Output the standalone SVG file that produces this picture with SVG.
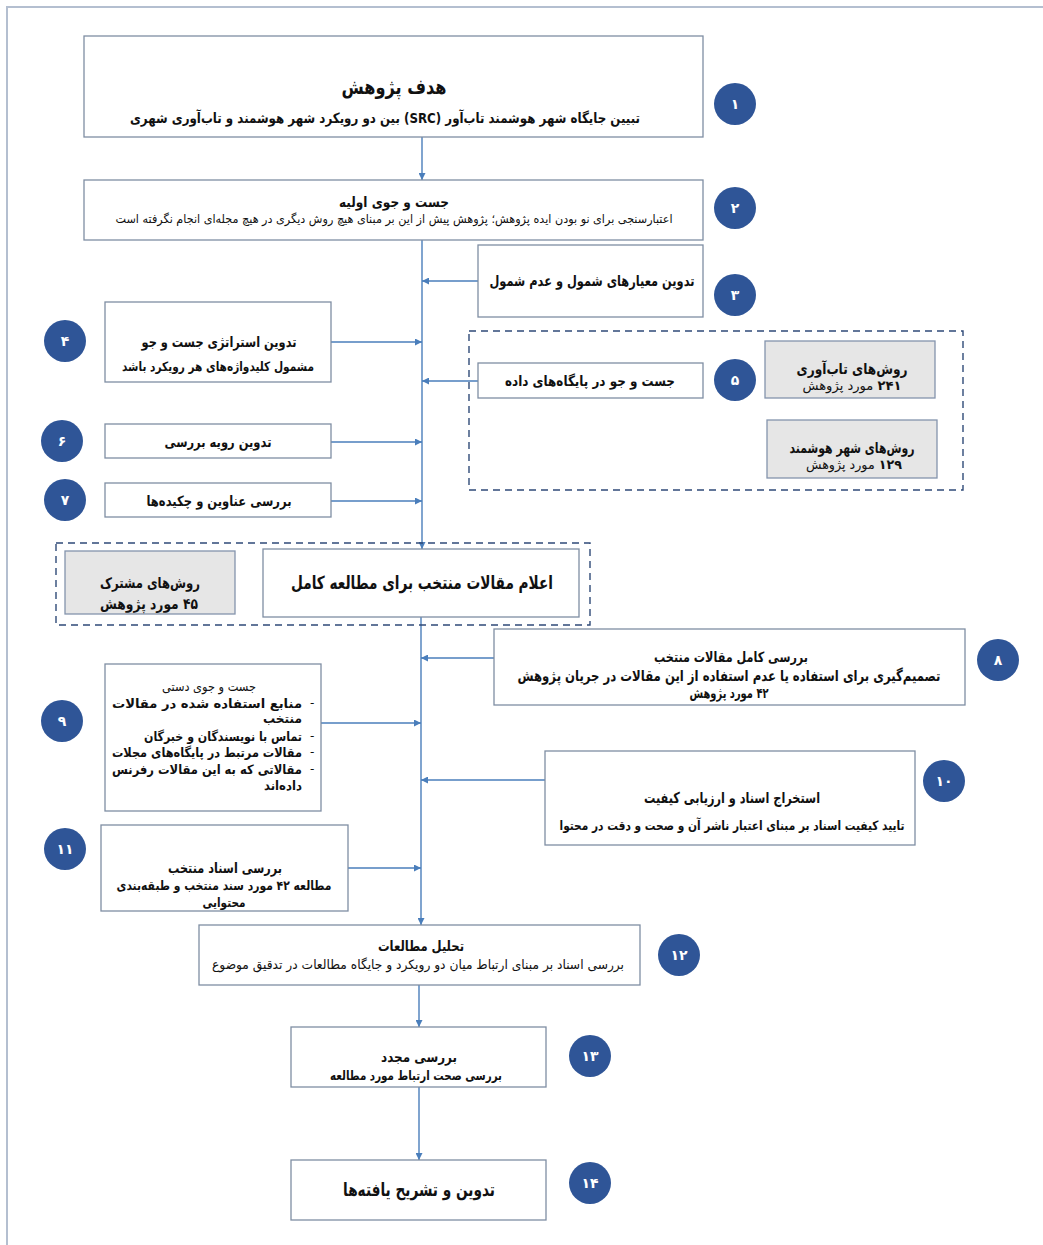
<svg xmlns="http://www.w3.org/2000/svg" width="1043" height="1245" viewBox="0 0 1043 1245">
<style>
text{font-family:"DejaVu Sans",sans-serif;fill:#111;direction:rtl}
.t{font-weight:bold;text-anchor:middle}
.s{text-anchor:middle}
.r{text-anchor:start;font-weight:600}
.box{fill:#fff;stroke:#7f8ea3;stroke-width:1.3}
.grey{fill:#e6e6e6;stroke:#8494ad;stroke-width:1.3}
.dash{fill:none;stroke:#2f4a78;stroke-width:1.4;stroke-dasharray:7 5}
.c{fill:#2f5597}
.n{fill:#fff;font-weight:bold;text-anchor:middle;font-size:14px}
.ln{stroke:#4a7ebb;stroke-width:1.4;fill:none}
.frame{fill:none;stroke:#b4bfd0;stroke-width:2}
</style>
<defs>
<marker id="ah" viewBox="0 0 10 10" refX="10" refY="5" markerWidth="5" markerHeight="5" orient="auto">
<path d="M0,0 L10,5 L0,10 z" fill="#4a7ebb"/>
</marker>
</defs>
<rect class="frame" x="7" y="7" width="1045" height="1250"/>

<g id="connectors">
<line class="ln" x1="422" y1="137" x2="422" y2="180" marker-end="url(#ah)"/>
<line class="ln" x1="422" y1="240" x2="422" y2="549" marker-end="url(#ah)"/>
<line class="ln" x1="478" y1="281" x2="422" y2="281" marker-end="url(#ah)"/>
<line class="ln" x1="331" y1="342" x2="422" y2="342" marker-end="url(#ah)"/>
<line class="ln" x1="478" y1="381" x2="422" y2="381" marker-end="url(#ah)"/>
<line class="ln" x1="331" y1="442" x2="422" y2="442" marker-end="url(#ah)"/>
<line class="ln" x1="331" y1="501" x2="422" y2="501" marker-end="url(#ah)"/>
<line class="ln" x1="421" y1="617" x2="421" y2="925" marker-end="url(#ah)"/>
<line class="ln" x1="494" y1="658" x2="421" y2="658" marker-end="url(#ah)"/>
<line class="ln" x1="321" y1="723" x2="421" y2="723" marker-end="url(#ah)"/>
<line class="ln" x1="545" y1="780" x2="421" y2="780" marker-end="url(#ah)"/>
<line class="ln" x1="348" y1="868" x2="421" y2="868" marker-end="url(#ah)"/>
<line class="ln" x1="419" y1="985" x2="419" y2="1027" marker-end="url(#ah)"/>
<line class="ln" x1="419" y1="1087" x2="419" y2="1160" marker-end="url(#ah)"/>
</g>

<g id="node1">
<rect class="box" x="84" y="36" width="619" height="101"/>
<text class="t" x="394" y="94" font-size="20" textLength="105" lengthAdjust="spacingAndGlyphs">هدف پژوهش</text>
<text class="t" x="385" y="123" font-size="14" textLength="510" lengthAdjust="spacingAndGlyphs">تبیین جایگاه شهر هوشمند تاب‌آور (SRC) بین دو رویکرد شهر هوشمند و تاب‌آوری شهری</text>
<circle class="c" cx="735" cy="104" r="21"/><text class="n" x="735" y="109">۱</text>
</g>

<g id="node2">
<rect class="box" x="84" y="180" width="619" height="60"/>
<text class="t" x="394" y="207" font-size="14" textLength="110" lengthAdjust="spacingAndGlyphs">جست و جوی اولیه</text>
<text class="s" x="394" y="223" font-size="12" textLength="557" lengthAdjust="spacingAndGlyphs">اعتبارسنجی برای نو بودن ایده پژوهش؛ پژوهش پیش از این بر مبنای هیچ روش دیگری در هیچ مجله‌ای انجام نگرفته است</text>
<circle class="c" cx="735" cy="208" r="21"/><text class="n" x="735" y="213">۲</text>
</g>

<g id="node3">
<rect class="box" x="478" y="245" width="225" height="72"/>
<text class="t" x="592" y="286" font-size="15" textLength="205" lengthAdjust="spacingAndGlyphs">تدوین معیارهای  شمول و عدم شمول</text>
<circle class="c" cx="735" cy="295" r="21"/><text class="n" x="735" y="300">۳</text>
</g>

<g id="node4">
<rect class="box" x="105" y="302" width="226" height="80"/>
<text class="t" x="219" y="347" font-size="14" textLength="155" lengthAdjust="spacingAndGlyphs">تدوین استراتژی جست و جو</text>
<text class="t" x="218" y="371" font-size="13" font-weight="600" textLength="192" lengthAdjust="spacingAndGlyphs">مشمول کلیدواژه‌های هر رویکرد باشد</text>
<circle class="c" cx="65" cy="341" r="21"/><text class="n" x="65" y="346">۴</text>
</g>

<g id="node5">
<rect class="dash" x="469" y="331" width="494" height="159"/>
<rect class="box" x="478" y="363" width="225" height="35"/>
<text class="t" x="590" y="386" font-size="14" textLength="170" lengthAdjust="spacingAndGlyphs">جست و جو در پایگاه‌های داده</text>
<circle class="c" cx="735" cy="380" r="21"/><text class="n" x="735" y="385">۵</text>
<rect class="grey" x="765" y="341" width="170" height="57"/>
<text class="t" x="852" y="374" font-size="15" textLength="111" lengthAdjust="spacingAndGlyphs">روش‌های تاب‌آوری</text>
<text class="s" x="852" y="390" font-size="13" textLength="99" lengthAdjust="spacingAndGlyphs"><tspan font-weight="bold">۲۴۱</tspan> مورد پژوهش</text>
<rect class="grey" x="767" y="420" width="170" height="58"/>
<text class="t" x="852" y="453" font-size="15" textLength="125" lengthAdjust="spacingAndGlyphs">روش‌های شهر هوشمند</text>
<text class="s" x="854" y="469" font-size="13" textLength="96" lengthAdjust="spacingAndGlyphs"><tspan font-weight="bold">۱۲۹</tspan> مورد پژوهش</text>
</g>

<g id="node6">
<rect class="box" x="105" y="424" width="226" height="34"/>
<text class="t" x="218" y="447" font-size="14" textLength="107" lengthAdjust="spacingAndGlyphs">تدوین رویه بررسی</text>
<circle class="c" cx="62" cy="441" r="21"/><text class="n" x="62" y="446">۶</text>
</g>

<g id="node7">
<rect class="box" x="105" y="483" width="226" height="34"/>
<text class="t" x="219" y="506" font-size="14" textLength="145" lengthAdjust="spacingAndGlyphs">بررسی عناوین و چکیده‌ها</text>
<circle class="c" cx="65" cy="500" r="21"/><text class="n" x="65" y="505">۷</text>
</g>

<g id="node-select">
<rect class="dash" x="56" y="543" width="534" height="82"/>
<rect class="box" x="263" y="549" width="316" height="68"/>
<text class="t" x="422" y="589" font-size="18" textLength="262" lengthAdjust="spacingAndGlyphs">اعلام مقالات منتخب برای مطالعه کامل</text>
<rect class="grey" x="65" y="551" width="170" height="63"/>
<text class="t" x="150" y="588" font-size="15" textLength="100" lengthAdjust="spacingAndGlyphs">روش‌های مشترک</text>
<text class="t" x="149" y="609" font-size="15" textLength="98" lengthAdjust="spacingAndGlyphs">۴۵ مورد پژوهش</text>
</g>

<g id="node8">
<rect class="box" x="494" y="629" width="471" height="76"/>
<text class="t" x="731" y="662" font-size="14" textLength="154" lengthAdjust="spacingAndGlyphs">بررسی کامل مقالات منتخب</text>
<text class="s" x="729" y="681" font-size="15" font-weight="600" textLength="423" lengthAdjust="spacingAndGlyphs">تصمیم‌گیری برای استفاده یا عدم استفاده از این مقالات در جریان پژوهش</text>
<text class="t" x="729" y="698" font-size="14" textLength="79" lengthAdjust="spacingAndGlyphs">۴۲ مورد پژوهش</text>
<circle class="c" cx="998" cy="660" r="21"/><text class="n" x="998" y="665">۸</text>
</g>

<g id="node9">
<rect class="box" x="105" y="664" width="216" height="147"/>
<text class="s" x="209" y="691" font-size="13" textLength="94" lengthAdjust="spacingAndGlyphs">جست و جوی دستی</text>
<text class="r" x="302" y="708" font-size="13" textLength="190" lengthAdjust="spacingAndGlyphs">منابع استفاده شده در مقالات</text>
<text class="r" x="302" y="723" font-size="13" textLength="39" lengthAdjust="spacingAndGlyphs">منتخب</text>
<text class="r" x="302" y="741" font-size="13" textLength="158" lengthAdjust="spacingAndGlyphs">تماس با نویسندگان و خبرگان</text>
<text class="r" x="302" y="757" font-size="13" textLength="190" lengthAdjust="spacingAndGlyphs">مقالات مرتبط در پایگاه‌های مجلات</text>
<text class="r" x="302" y="774" font-size="13" textLength="190" lengthAdjust="spacingAndGlyphs">مقالاتی که به این مقالات رفرنس</text>
<text class="r" x="302" y="790" font-size="13" textLength="38" lengthAdjust="spacingAndGlyphs">داده‌اند</text>
<text x="310" y="707" font-size="12" style="direction:ltr">-</text>
<text x="310" y="740" font-size="12" style="direction:ltr">-</text>
<text x="310" y="756" font-size="12" style="direction:ltr">-</text>
<text x="310" y="773" font-size="12" style="direction:ltr">-</text>
<circle class="c" cx="62" cy="721" r="21"/><text class="n" x="62" y="726">۹</text>
</g>

<g id="node10">
<rect class="box" x="545" y="751" width="370" height="94"/>
<text class="t" x="732" y="803" font-size="15" textLength="176" lengthAdjust="spacingAndGlyphs">استخراج اسناد و ارزیابی کیفیت</text>
<text class="t" x="732" y="830" font-size="13" font-weight="600" textLength="345" lengthAdjust="spacingAndGlyphs">تایید کیفیت اسناد بر مبنای اعتبار ناشر آن و صحت و دقت در محتوا</text>
<circle class="c" cx="944" cy="781" r="21"/><text class="n" x="944" y="786">۱۰</text>
</g>

<g id="node11">
<rect class="box" x="101" y="825" width="247" height="86"/>
<text class="t" x="225" y="873" font-size="14" textLength="114" lengthAdjust="spacingAndGlyphs">بررسی اسناد منتخب</text>
<text class="t" x="224" y="890" font-size="13" font-weight="600" textLength="215" lengthAdjust="spacingAndGlyphs">مطالعه ۴۲ مورد سند منتخب و طبقه‌بندی</text>
<text class="t" x="224" y="907" font-size="13" font-weight="600" textLength="43" lengthAdjust="spacingAndGlyphs">محتوایی</text>
<circle class="c" cx="65" cy="849" r="21"/><text class="n" x="65" y="854">۱۱</text>
</g>

<g id="node12">
<rect class="box" x="199" y="925" width="441" height="60"/>
<text class="t" x="421" y="951" font-size="14" textLength="86" lengthAdjust="spacingAndGlyphs">تحلیل مطالعات</text>
<text class="s" x="418" y="969" font-size="13" textLength="412" lengthAdjust="spacingAndGlyphs">بررسی اسناد بر مبنای ارتباط میان دو رویکرد و جایگاه مطالعات در تدقیق موضوع</text>
<circle class="c" cx="679" cy="955" r="21"/><text class="n" x="679" y="960">۱۲</text>
</g>

<g id="node13">
<rect class="box" x="291" y="1027" width="255" height="60"/>
<text class="t" x="419" y="1062" font-size="14" textLength="76" lengthAdjust="spacingAndGlyphs">بررسی مجدد</text>
<text class="t" x="416" y="1080" font-size="13" font-weight="600" textLength="172" lengthAdjust="spacingAndGlyphs">بررسی صحت ارتباط مورد مطالعه</text>
<circle class="c" cx="590" cy="1056" r="21"/><text class="n" x="590" y="1061">۱۳</text>
</g>

<g id="node14">
<rect class="box" x="291" y="1160" width="255" height="60"/>
<text class="t" x="419" y="1196" font-size="18" textLength="152" lengthAdjust="spacingAndGlyphs">تدوین و تشریح یافته‌ها</text>
<circle class="c" cx="590" cy="1183" r="21"/><text class="n" x="590" y="1188">۱۴</text>
</g>
</svg>
